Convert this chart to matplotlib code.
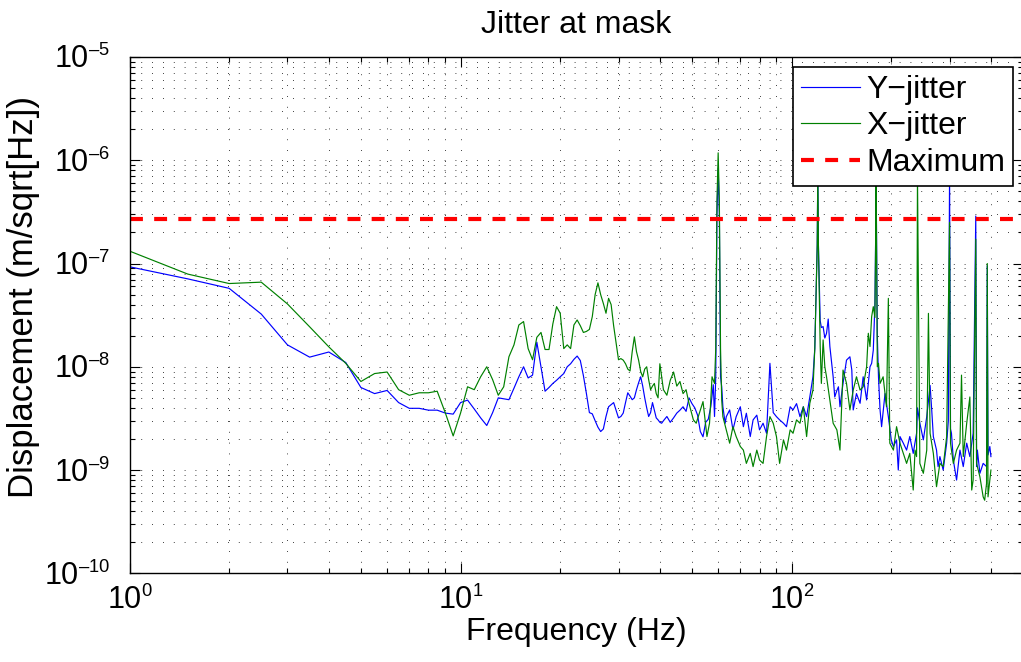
import matplotlib
matplotlib.use("Agg")
import matplotlib.pyplot as plt
from matplotlib.ticker import LogLocator, NullFormatter, FuncFormatter
import numpy as np

try:
    import matplotlib._mathtext as _mt
    _mt.SHRINK_FACTOR = 0.6  # smaller exponents on the power-of-ten labels
except Exception:
    pass

plt.rcParams['font.family'] = ['Liberation Sans', 'DejaVu Sans']
plt.rcParams['mathtext.fontset'] = 'custom'
plt.rcParams['mathtext.rm'] = 'Liberation Sans'
plt.rcParams['mathtext.it'] = 'Liberation Sans:italic'
plt.rcParams['mathtext.default'] = 'regular'

# ---- Y-jitter spectrum (m/sqrt(Hz)) ----
freq_y = [1, 1.5, 2, 2.5, 3, 3.5, 4, 4.5, 5, 5.5, 6, 6.5, 7, 7.5, 8, 8.5, 9, 9.5,
          10, 10.5, 11, 11.5, 12, 12.5, 13, 13.5, 14, 14.5, 15, 15.5, 16, 16.5,
          17, 17.5, 18, 18.5, 19, 19.5, 20, 20.5, 21, 21.5, 22, 22.5, 23, 23.5,
          24, 24.5, 25, 25.5, 26, 26.5, 27, 27.5, 28, 28.5, 29, 29.5, 30, 30.5,
          31, 31.5, 32, 32.5, 33, 33.5, 34, 34.5, 35, 35.5, 36, 36.5, 37, 37.5,
          38, 38.5, 39, 39.5, 40, 40.5, 41, 42, 43, 44, 45, 46, 47, 48, 49, 50,
          51, 52, 53, 54, 55, 56, 57, 58, 58.5, 59, 59.5, 60, 60.5, 61, 61.5, 62,
          63, 63.5, 65, 66, 66.5, 68, 70, 71.5, 73, 75, 76.5, 78.5, 80, 82, 84,
          86, 88, 90, 92, 94.5, 96.5, 99, 101, 103.5, 106, 108.5, 111, 113.5,
          116, 117.5, 119.5, 120, 120.5, 122, 123, 124.5, 126, 127.5, 129, 130.5,
          133.5, 135, 137, 138.5, 140, 143, 146.5, 150, 152, 153.5, 157, 161,
          164.5, 168.5, 172.5, 174.5, 176.5, 178.5, 179.5, 180, 180.5, 181.5,
          183, 185, 187, 191.5, 196, 200, 203, 207.5, 210, 212.5, 217.5, 222.5,
          227.5, 233, 238.5, 240, 244, 250, 256, 262, 265, 268, 274, 277, 280.5,
          287, 294, 297.5, 300, 302, 304, 308, 315, 322.5, 330, 338, 345.5,
          353.5, 360, 362, 364, 370.5, 379, 388, 390, 392, 397, 400]
disp_y = [9.3e-8, 7.1e-8, 5.75e-8, 3.24e-8, 1.63e-8, 1.24e-8, 1.39e-8, 1.1e-8,
          6.3e-9, 5.5e-9, 5.9e-9, 4.5e-9, 3.96e-9, 3.96e-9, 3.8e-9, 3.8e-9,
          3.56e-9, 3.48e-9,
          4.5e-9, 4.76e-9, 3.9e-9, 3.2e-9, 2.7e-9, 3.6e-9, 5.0e-9, 4.9e-9,
          4.8e-9, 6.2e-9, 8.0e-9, 1.0e-8, 7.8e-9, 8.3e-9,
          1.73e-8, 1.0e-8, 5.8e-9, 6.3e-9, 6.9e-9, 7.4e-9, 8.0e-9, 8.6e-9,
          1.0e-8, 1.07e-8, 1.18e-8, 1.27e-8, 1.15e-8, 8.2e-9,
          5.5e-9, 3.6e-9, 3.5e-9, 3.0e-9, 2.6e-9, 2.36e-9, 2.5e-9, 3.3e-9,
          4.1e-9, 4.3e-9, 4.5e-9, 3.8e-9, 3.2e-9, 3.3e-9,
          3.56e-9, 4.5e-9, 5.6e-9, 5.2e-9, 4.8e-9, 5.0e-9, 6.0e-9, 7.0e-9,
          8.0e-9, 6.5e-9, 5.0e-9, 4.0e-9, 3.3e-9, 3.6e-9,
          4.5e-9, 3.8e-9, 3.2e-9, 3.06e-9, 2.9e-9, 2.84e-9, 3.0e-9, 3.3e-9,
          2.9e-9, 3.2e-9, 3.56e-9, 3.8e-9, 4.1e-9, 3.7e-9, 5.0e-9, 4.4e-9,
          4.0e-9, 3.4e-9, 2.36e-9, 2.1e-9, 2.9e-9, 3.1e-9, 4.1e-9, 6.7e-9,
          3.3e-9, 8e-9, 3e-7, 8.4e-7, 3e-7, 8e-9, 6.4e-9, 4.1e-9,
          2.84e-9, 3.29e-9, 3.82e-9, 2.84e-9, 2.45e-9, 3.29e-9, 4.1e-9, 2.63e-9,
          3.55e-9, 2.11e-9, 3.06e-9, 3.4e-9, 2.45e-9, 2.84e-9, 2.27e-9,
          1.08e-8, 3.6e-9, 3.29e-9, 3.06e-9, 2.84e-9, 2.63e-9, 4.1e-9, 3.82e-9,
          4.4e-9, 3.29e-9, 4.1e-9, 3.29e-9, 5.1e-9,
          8.0e-9, 1.5e-8, 1.5e-7, 8e-7, 1.5e-7, 2.8e-8, 2.4e-8, 2.45e-8, 1.9e-8,
          2.11e-8, 2.9e-8, 1.57e-8,
          8.0e-9, 5.1e-9, 5.9e-9, 6.4e-9, 4.1e-9, 6.9e-9, 1.16e-8, 1.25e-8,
          9.3e-9, 3.82e-9, 5.5e-9, 4.43e-9,
          8.0e-9, 4.77e-9, 1.0e-8, 1.08e-8, 1.45e-8, 4e-8, 2e-7, 8e-7, 2e-7, 2e-8,
          8.0e-9, 3.82e-9, 2.63e-9, 5.5e-9, 3.29e-9, 1.96e-9, 1.69e-9, 1.96e-9,
          1.0e-9, 2.11e-9, 1.82e-9, 1.56e-9,
          2.11e-9, 1.45e-9, 2.27e-9, 4e-9, 2.84e-9, 1.96e-9, 3.29e-9, 6.6e-9,
          3.82e-9, 2.11e-9, 1.56e-9, 1.08e-9, 1.35e-9,
          1.0e-9, 1.82e-9, 3e-9, 7e-7, 2.5e-9, 2.27e-9, 1.25e-9, 8.0e-10,
          1.56e-9, 1.08e-9, 1.82e-9, 1.35e-9,
          2.27e-9, 2.88e-7, 1.08e-9, 1.56e-9, 9.3e-10, 1.16e-9, 1.08e-9, 9.5e-8,
          1.4e-9, 1.69e-9, 1.35e-9]

# ---- X-jitter spectrum (m/sqrt(Hz)) ----
freq_x = [1, 1.5, 2, 2.5, 3, 3.5, 4, 4.5, 5, 5.5, 6, 6.5, 7, 7.5, 8, 8.5, 9, 9.5,
          10, 10.5, 11, 11.5, 12, 12.5, 13, 13.5, 14, 14.5, 15, 15.5, 16, 16.5,
          17, 17.5, 18, 18.5, 19, 19.5, 20, 20.5, 21, 21.5, 22, 22.5, 23, 23.5,
          24, 24.5, 25, 25.5, 26, 26.5, 27, 27.5, 28, 28.5, 29, 29.5, 30, 30.5,
          31, 31.5, 32, 32.5, 33, 33.5, 34, 34.5, 35, 35.5, 36, 36.5, 37, 37.5,
          38, 38.5, 39, 39.5, 40, 40.5, 41, 42, 43, 44, 45, 46, 47, 48, 49,
          50.5, 51.5, 53, 54, 55.5, 56.5, 57.5, 58.5, 59, 59.5, 60, 60.5, 61,
          61.5, 62, 63.5, 65, 66.5, 68, 70, 71.5, 73, 75, 76.5, 78.5, 80, 82, 84,
          86, 88, 90, 92, 94.5, 96.5, 99, 101, 103.5, 106, 108.5, 111, 113.5,
          116, 117.5, 119.5, 120, 120.5, 122, 123, 124.5, 126, 127.5, 130.5,
          133.5, 137, 140, 143, 146.5, 150, 153.5, 157, 161, 164.5, 168.5,
          170.5, 172.5, 174.5, 176.5, 178.5, 179.5, 180, 180.5, 181.5,
          183, 185, 189, 193.5, 196, 198, 203, 207.5, 212.5, 217.5, 222.5,
          227.5, 233, 236, 238.5, 240, 244, 250, 256, 259, 262, 268, 274, 280.5,
          287, 294, 300, 302, 308, 315, 322.5, 326, 330, 338, 345.5, 350,
          353.5, 360, 362, 370.5, 379, 383, 388, 390, 392, 397, 400]
disp_x = [1.32e-7, 7.9e-8, 6.4e-8, 6.6e-8, 4.06e-8, 2.44e-8, 1.56e-8, 1.08e-8,
          7.2e-9, 8.6e-9, 8.9e-9, 6.0e-9, 5.3e-9, 5.6e-9, 5.6e-9, 5.8e-9,
          3.56e-9, 2.14e-9,
          3.56e-9, 6.4e-9, 6.0e-9, 8.0e-9, 1.0e-8, 7.5e-9, 5.3e-9, 6.4e-9,
          1.25e-8, 1.63e-8, 2.54e-8, 2.74e-8, 1.5e-8, 1.17e-8,
          1.93e-8, 2.15e-8, 1.47e-8, 1.47e-8, 2.6e-8, 3.82e-8, 3.3e-8, 1.5e-8,
          1.63e-8, 1.5e-8, 2.54e-8, 2.84e-8, 2.5e-8, 2.15e-8,
          2.2e-8, 2.3e-8, 3.06e-8, 5.0e-8, 6.5e-8, 5.0e-8, 4.1e-8, 3.3e-8,
          4.6e-8, 4.0e-8, 2.5e-8, 1.7e-8, 1.17e-8, 1.2e-8,
          1.16e-8, 1.07e-8, 9.5e-9, 9.1e-9, 1.4e-8, 1.95e-8, 1.4e-8, 1.16e-8,
          9.0e-9, 8.0e-9, 9.5e-9, 1.0e-8, 7.5e-9, 6.0e-9,
          6.5e-9, 6.9e-9, 5.5e-9, 5.0e-9, 1.07e-8, 8.0e-9, 6.0e-9, 5.3e-9,
          7.4e-9, 8.9e-9, 6.5e-9, 7.2e-9, 5.5e-9, 6.0e-9, 4.4e-9,
          3.06e-9, 2.84e-9, 3.82e-9, 4.6e-9, 2.11e-9, 2.84e-9, 8.0e-9, 6.9e-9,
          1.5e-8, 4e-7, 1.18e-6, 4e-7, 1.5e-8,
          4.77e-9, 3.29e-9, 2.45e-9, 1.82e-9, 2.63e-9, 2.11e-9, 1.69e-9, 1.56e-9,
          1.16e-9, 1.45e-9, 1.08e-9, 1.56e-9, 1.25e-9, 1.16e-9, 2.11e-9,
          3.29e-9, 2.84e-9, 2.11e-9, 1.16e-9, 1.96e-9, 1.56e-9, 2.45e-9, 2.27e-9,
          3.06e-9, 2.84e-9, 4.1e-9, 2.11e-9, 4.43e-9,
          5.95e-9, 1.5e-8, 1.5e-7, 8e-7, 1.5e-7, 1.57e-8, 6.9e-9, 1.82e-8, 1.0e-8,
          8.0e-9, 4.77e-9,
          2.84e-9, 2.45e-9, 1.56e-9, 9.3e-9, 6.9e-9, 3.82e-9, 5.95e-9, 8.0e-9,
          5.95e-9, 6.4e-9, 1.0e-8,
          2.11e-8, 1.57e-8, 3.06e-8, 3.82e-8, 3e-8, 2e-7, 8e-7, 2e-7, 1e-8,
          1.08e-8, 6.9e-9, 8.0e-9, 4.1e-9, 4.6e-8, 1.82e-9, 1.56e-9, 2.63e-9,
          1.82e-9, 1.45e-9, 1.16e-9,
          1.45e-9, 6.4e-10, 1.56e-9, 1.35e-9, 7e-7, 1.16e-9, 9.3e-10, 1.56e-9,
          3.29e-8, 2.27e-9, 1.45e-9, 6.9e-10, 1.16e-9,
          1.08e-9, 2.11e-9, 2.5e-7, 1.82e-9, 1.16e-9, 1.56e-9, 1.82e-9, 8.3e-9,
          1.35e-9, 2.84e-9, 5.1e-9, 6.4e-10,
          8.0e-10, 1.72e-7, 1.16e-9, 8.6e-10, 5.5e-10, 5.1e-10, 7.4e-10, 1.0e-7,
          5.5e-10, 8.0e-10, 1.0e-9]

max_disp = 2.68e-7

assert len(freq_y) == len(disp_y)
assert len(freq_x) == len(disp_x)


def pow10_label(v, pos):
    e = int(round(np.log10(v)))
    s = str(e).replace('-', '\u2013')
    return r'$\mathdefault{10^{%s}}$' % s


fig = plt.figure(figsize=(10.21, 6.62), dpi=100)
ax = fig.add_axes([129.5 / 1021, 88.7 / 662, (1023 - 129.5) / 1021, (573.3 - 57) / 662])

ax.loglog(freq_y, disp_y, color=(0, 0, 1), lw=0.85, label='Y\u2212jitter')
ax.loglog(freq_x, disp_x, color=(0, 0.5, 0), lw=0.85, label='X\u2212jitter')
ax.axhline(max_disp, color=(1, 0, 0), lw=3, ls=(0, (3.1, 2.7)), label='Maximum')

ax.set_xlim(1, 500)
ax.set_ylim(1e-10, 1e-5)

ax.xaxis.set_major_locator(LogLocator(base=10, numticks=10))
ax.xaxis.set_minor_locator(LogLocator(base=10, subs=range(2, 10), numticks=20))
ax.xaxis.set_minor_formatter(NullFormatter())
ax.xaxis.set_major_formatter(FuncFormatter(pow10_label))
ax.yaxis.set_major_locator(LogLocator(base=10, numticks=10))
ax.yaxis.set_minor_locator(LogLocator(base=10, subs=range(2, 10), numticks=20))
ax.yaxis.set_minor_formatter(NullFormatter())
ax.yaxis.set_major_formatter(FuncFormatter(pow10_label))

ax.grid(True, which='major', ls=(0, (1, 12)), lw=0.6, color='k')
ax.grid(True, which='minor', ls=(0, (1, 12)), lw=0.6, color='k')

ax.tick_params(which='both', direction='in', top=True, right=True, width=0.8,
               labelsize=22)
ax.tick_params(which='major', length=7)
ax.tick_params(which='minor', length=3.5)
ax.tick_params(axis='y', pad=14)
ax.tick_params(axis='x', pad=9)
for s in ax.spines.values():
    s.set_linewidth(1.0)

ax.set_title('Jitter at mask', fontsize=23, pad=17)
ax.set_xlabel('Frequency (Hz)', fontsize=23, labelpad=1)
ax.set_ylabel('Displacement (m/sqrt[Hz])', fontsize=25)
ax.yaxis.set_label_coords(-0.100, 0.535)

leg = ax.legend(loc='upper right', bbox_to_anchor=(1013 / 1021, 1 - 67 / 662),
                bbox_transform=fig.transFigure, borderaxespad=0, fontsize=23,
                fancybox=False, framealpha=1, edgecolor='k', handlelength=1.85,
                handletextpad=0.2, labelspacing=0.2, borderpad=0.25)
leg.get_frame().set_linewidth(1.2)

fig.savefig('out.png', dpi=100)
